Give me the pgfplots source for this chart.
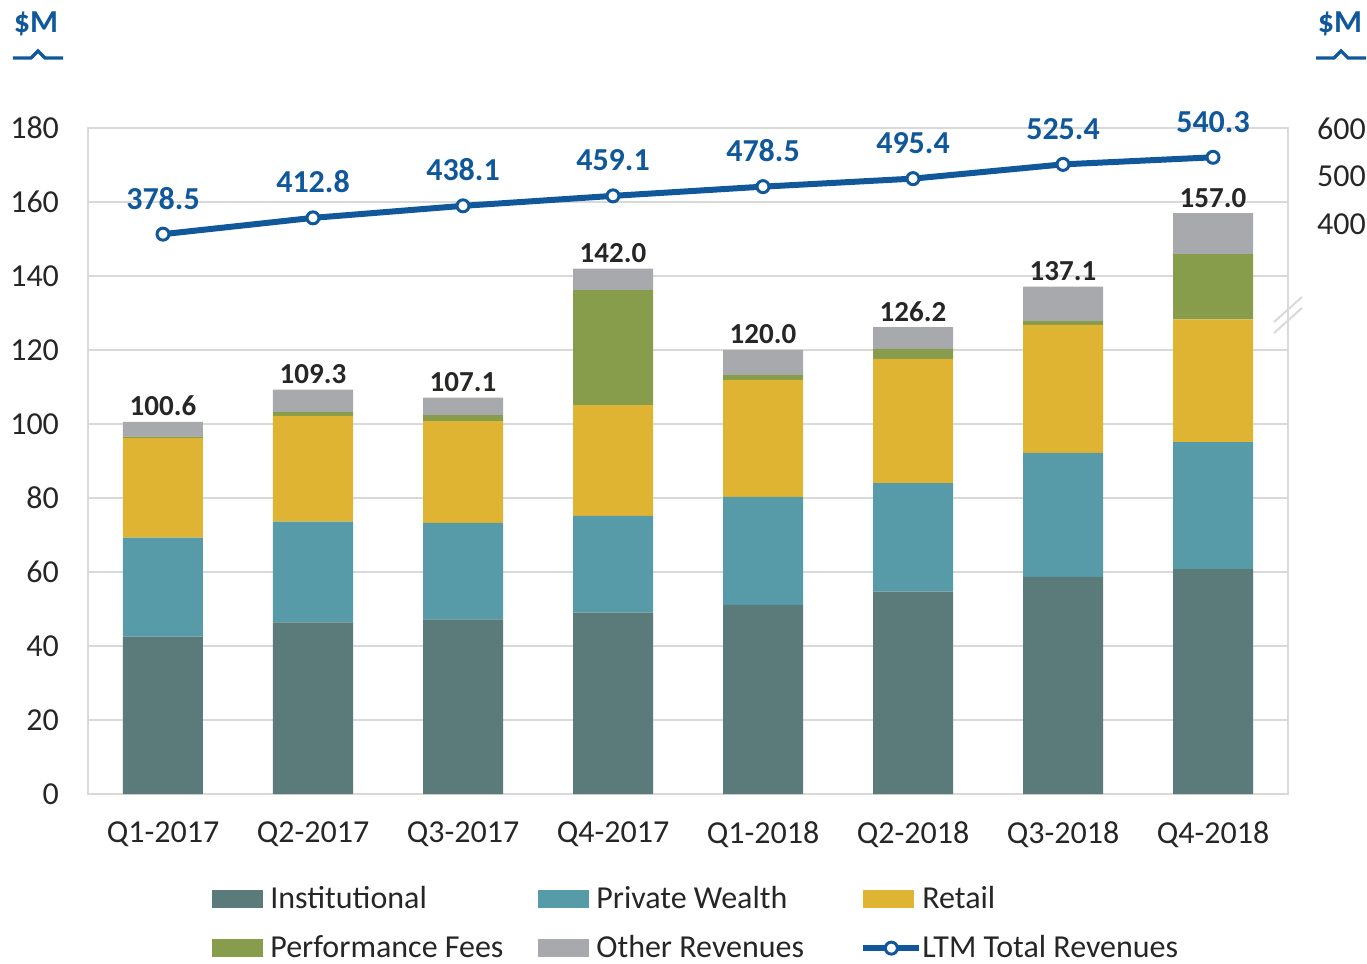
\documentclass[border=0pt]{standalone}
\usepackage{pgfplots}
\pgfplotsset{compat=1.18}
\usepackage{fontspec}
\setmainfont{Carlito}
\definecolor{cInst}{RGB}{90,123,122}
\definecolor{cPW}{RGB}{87,155,169}
\definecolor{cRet}{RGB}{224,180,51}
\definecolor{cPerf}{RGB}{135,157,76}
\definecolor{cOther}{RGB}{168,169,173}
\definecolor{cBlue}{RGB}{16,88,154}
\definecolor{cGrid}{RGB}{217,217,217}
\definecolor{cText}{RGB}{38,38,38}
\begin{document}
\begin{tikzpicture}
\path[use as bounding box] (-44pt,-85pt) rectangle (639.5pt,397pt);
\begin{axis}[
  scale only axis, width=600pt, height=333pt,
  xmin=-0.5, xmax=7.5, ymin=0, ymax=180,
  ybar stacked, bar width=40pt,
  xtick={0,...,7},
  xticklabels={Q1-2017,Q2-2017,Q3-2017,Q4-2017,Q1-2018,Q2-2018,Q3-2018,Q4-2018},
  ytick={0,20,...,180},
  ymajorgrids, major grid style={color=cGrid, line width=1pt},
  axis line style={color=cGrid, line width=1pt},
  tick style={draw=none},
  /pgf/number format/assume math mode=true,
  tick label style={font=\fontsize{16}{19}\selectfont, text=cText},
  yticklabel style={xshift=-11pt},
  xticklabel style={yshift=-10.5pt},
  legend columns=3,
  legend style={draw=none, fill=none, at={(0.1033,-0.138)}, anchor=north west,
    font=\fontsize{16}{19}\selectfont, text=cText, column sep=0pt, row sep=12pt,
    inner sep=0pt, nodes={inner sep=0pt}, cells={anchor=west}},
  legend image code/.code={\fill[#1] (0pt,-4.5pt) rectangle (25.5pt,4.5pt);},
  clip=false,
]
\addplot[fill=cInst, draw=none] coordinates {(0,42.5) (1,46.4) (2,47.2) (3,49.0) (4,51.1) (5,54.7) (6,58.7) (7,60.8)};
\addlegendentry{\makebox[137.5pt][l]{\hspace{3.5pt}Institutional}}
\addplot[fill=cPW, draw=none] coordinates {(0,26.8) (1,27.2) (2,26.1) (3,26.2) (4,29.2) (5,29.3) (6,33.5) (7,34.3)};
\addlegendentry{\makebox[135.5pt][l]{\hspace{3.5pt}Private Wealth}}
\addplot[fill=cRet, draw=none] coordinates {(0,26.9) (1,28.6) (2,27.5) (3,29.9) (4,31.6) (5,33.6) (6,34.6) (7,33.2)};
\addlegendentry{Retail}
\addplot[fill=cPerf, draw=none] coordinates {(0,0.4) (1,1.1) (2,1.6) (3,31.1) (4,1.3) (5,2.7) (6,1.0) (7,17.6)};
\addlegendentry{\makebox[137.5pt][l]{\hspace{3.5pt}Performance Fees}}
\addplot[fill=cOther, draw=none] coordinates {(0,4.0) (1,6.0) (2,4.7) (3,5.8) (4,6.8) (5,5.9) (6,9.3) (7,11.1)};
\addlegendentry{\makebox[135.5pt][l]{\hspace{3.5pt}Other Revenues}}
\addlegendimage{legend image code/.code={\draw[cBlue, line width=3pt] (0pt,0pt) -- (28pt,0pt);
  \draw[cBlue, fill=white, line width=1.5pt] (14pt,0pt) circle (3pt);}}
\addlegendentry{LTM Total Revenues}
\end{axis}
% totals above the bars
\begin{axis}[
  scale only axis, width=600pt, height=333pt,
  xmin=-0.5, xmax=7.5, ymin=0, ymax=180,
  hide axis, clip=false,
]
\addplot[draw=none, mark=none, nodes near coords, point meta=explicit symbolic,
  nodes near coords style={font=\bfseries\fontsize{14.5}{17}\selectfont, text=cText, anchor=base, yshift=3pt}]
  coordinates {(0,100.6)[100.6] (1,109.3)[109.3] (2,107.1)[107.1] (3,142.0)[142.0] (4,120.0)[120.0] (5,126.2)[126.2] (6,137.1)[137.1] (7,157.0)[157.0]};
\end{axis}
\begin{axis}[
  scale only axis, width=600pt, height=333pt,
  xmin=-0.5, xmax=7.5, ymin=-800, ymax=602,
  hide x axis, axis y line*=right, axis line style={draw=none},
  ytick={400,500,600}, tick style={draw=none},
  /pgf/number format/assume math mode=true,
  tick label style={font=\fontsize{16}{19}\selectfont, text=cText},
  yticklabel style={xshift=11pt},
  clip=false,
]
\addplot[color=cBlue, line width=3pt, mark=*, mark size=3pt,
  mark options={fill=white, line width=1.5pt},
  nodes near coords, point meta=y,
  nodes near coords style={font=\bfseries\fontsize{16}{19}\selectfont, text=cBlue, anchor=base, yshift=12.5pt,
    /pgf/number format/.cd, fixed, precision=1, fixed zerofill}]
  coordinates {(0,378.5) (1,412.8) (2,438.1) (3,459.1) (4,478.5) (5,495.4) (6,525.4) (7,540.3)};
\end{axis}
% decorations: unit labels and axis break
\node[font=\bfseries\fontsize{16}{19}\selectfont, text=cBlue] at (-26pt,385pt) {\$M};
\draw[cBlue, line width=1.6pt] (-37.5pt,368pt) -- (-28.5pt,368pt) -- (-25pt,371.5pt) -- (-21.5pt,368pt) -- (-12.5pt,368pt);
\node[font=\bfseries\fontsize{16}{19}\selectfont, text=cBlue] at (626pt,385pt) {\$M};
\draw[cBlue, line width=1.6pt] (614pt,368pt) -- (623pt,368pt) -- (626.5pt,371.5pt) -- (630pt,368pt) -- (639pt,368pt);
\draw[cGrid, line width=1pt] (593pt,230.5pt) -- (607pt,243pt);
\draw[cGrid, line width=1pt] (593pt,236pt) -- (607pt,248.5pt);
\end{tikzpicture}
\end{document}
